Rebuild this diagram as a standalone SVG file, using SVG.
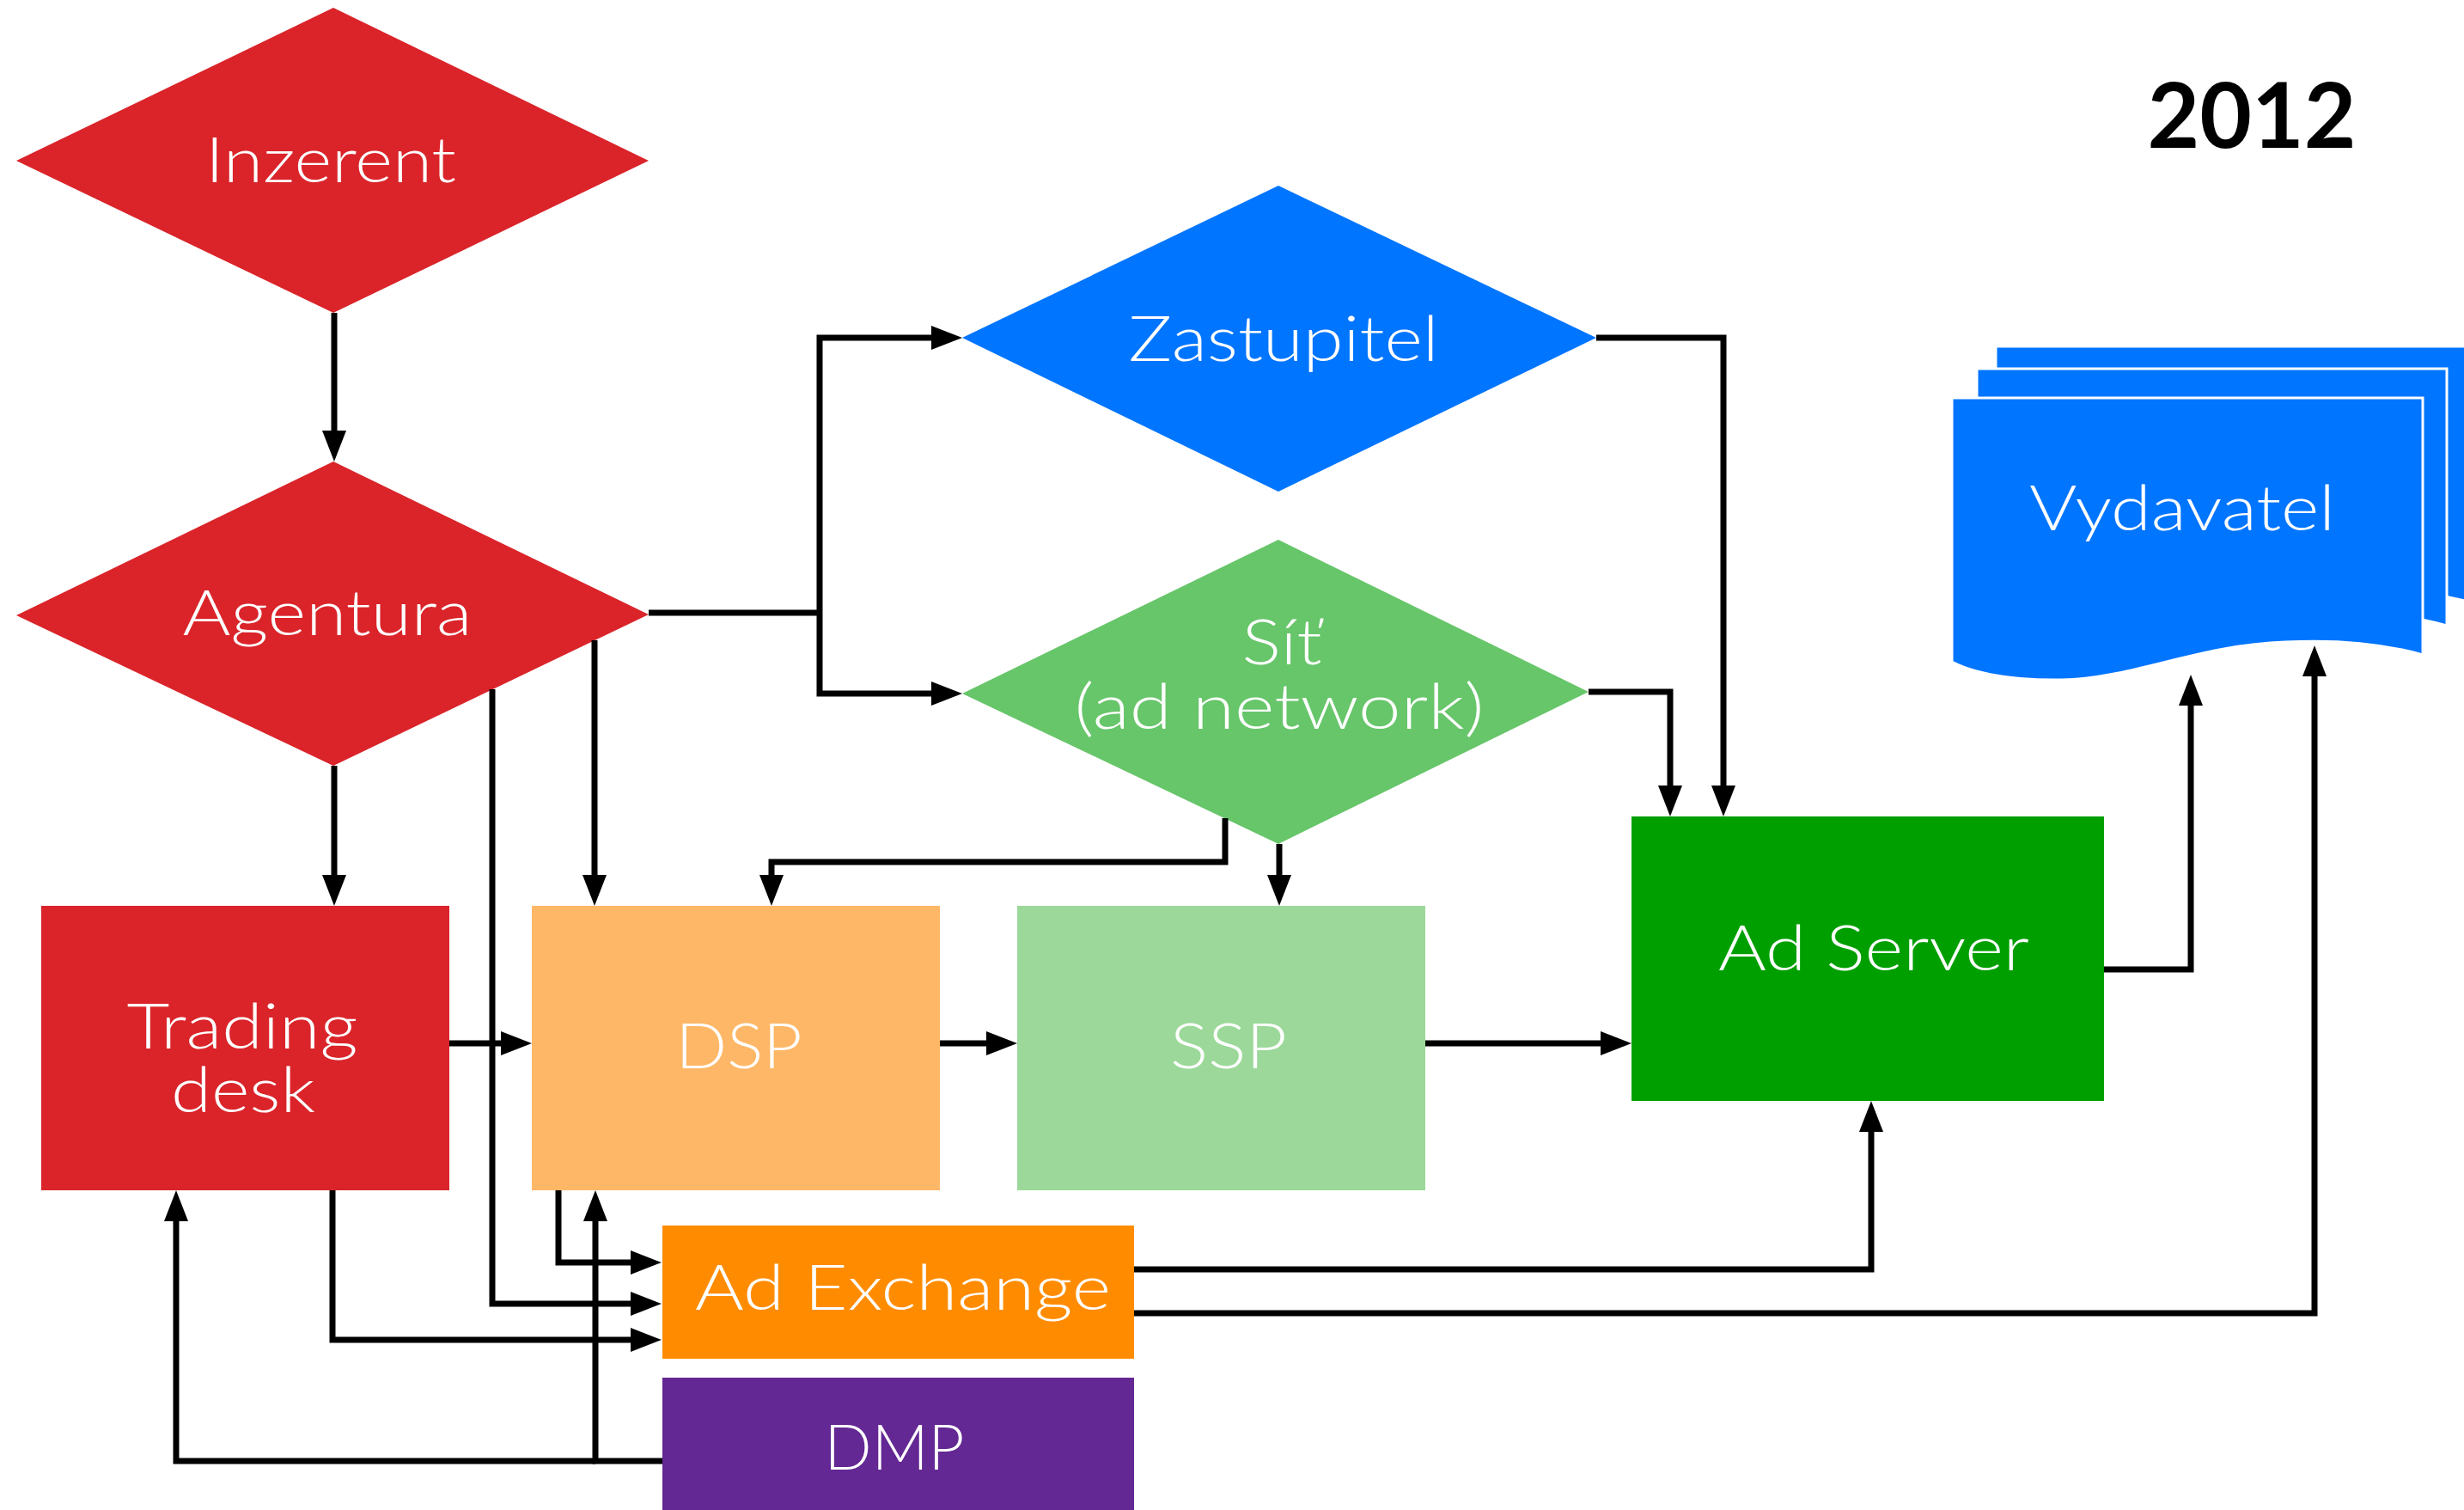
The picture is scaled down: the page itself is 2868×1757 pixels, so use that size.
<svg xmlns="http://www.w3.org/2000/svg" width="2868" height="1757" viewBox="0 0 2868 1757">
<defs>
<style>
.lbl{font-family:Lato,"Open Sans","Liberation Sans",sans-serif;font-weight:300;font-size:73px;fill:#ffffff;text-anchor:middle}
.year{font-family:Lato,"Liberation Sans",sans-serif;font-weight:700;font-size:106px;fill:#000000;text-anchor:middle}
.c{fill:none;stroke:#000;stroke-width:7;stroke-linejoin:miter;stroke-linecap:butt}
.a{marker-end:url(#ah)}
.doc{fill:#0075ff;stroke:#ffffff;stroke-width:3}
</style>
<marker id="ah" markerUnits="userSpaceOnUse" markerWidth="36" markerHeight="28" refX="26" refY="14" orient="auto" viewBox="0 0 36 28">
<path d="M0,0 L36,14 L0,28 Z" fill="#000"/>
</marker>
</defs>
<rect width="2868" height="1757" fill="#ffffff"/>

<g id="inzerent">
<polygon points="388,9 755,187 388,364 19,187" fill="#da242a"/>
<text class="lbl" x="385" y="212" textLength="292" lengthAdjust="spacingAndGlyphs">Inzerent</text>
</g>
<g id="agentura">
<polygon points="388,537 755,715 388,891 19,716" fill="#da242a"/>
<text class="lbl" x="381" y="739" textLength="337" lengthAdjust="spacingAndGlyphs">Agentura</text>
</g>
<g id="zastupitel">
<polygon points="1488,216 1858,393 1488,572 1120,393" fill="#0075ff"/>
<text class="lbl" x="1494" y="420" textLength="361" lengthAdjust="spacingAndGlyphs">Zastupitel</text>
</g>
<g id="sit">
<polygon points="1488,628 1849,805 1488,982 1120,807" fill="#67c56a"/>
<text class="lbl" x="1492" y="773" textLength="93" lengthAdjust="spacingAndGlyphs">Síť</text>
<text class="lbl" x="1489" y="848" textLength="477" lengthAdjust="spacingAndGlyphs">(ad network)</text>
</g>
<g id="trading-desk">
<rect x="48" y="1054" width="475" height="331" fill="#da242a"/>
<text class="lbl" x="282" y="1220" textLength="269" lengthAdjust="spacingAndGlyphs">Trading</text>
<text class="lbl" x="283" y="1294" textLength="168" lengthAdjust="spacingAndGlyphs">desk</text>
</g>
<g id="dsp">
<rect x="619" y="1054" width="475" height="331" fill="#feb766"/>
<text class="lbl" x="860" y="1243" textLength="147" lengthAdjust="spacingAndGlyphs">DSP</text>
</g>
<g id="ssp">
<rect x="1184" y="1054" width="475" height="331" fill="#9bd899"/>
<text class="lbl" x="1430" y="1243" textLength="136" lengthAdjust="spacingAndGlyphs">SSP</text>
</g>
<g id="ad-server">
<rect x="1899" y="950" width="550" height="331" fill="#009f00"/>
<text class="lbl" x="2181" y="1129" textLength="362" lengthAdjust="spacingAndGlyphs">Ad Server</text>
</g>
<g id="ad-exchange">
<rect x="771" y="1426" width="549" height="155" fill="#ff8c00"/>
<text class="lbl" x="1051" y="1524" textLength="484" lengthAdjust="spacingAndGlyphs">Ad Exchange</text>
</g>
<g id="dmp">
<rect x="771" y="1603" width="549" height="160" fill="#632893"/>
<text class="lbl" x="1041" y="1710" textLength="163" lengthAdjust="spacingAndGlyphs">DMP</text>
</g>
<g id="vydavatel">
<path class="doc" d="M2323,403 H2880 V702 C2820,685 2760,685 2711,687 C2611,690 2531,730 2451,731 C2381,732 2341,720 2323,710 Z"/>
<path class="doc" d="M2301,429 H2848 V728 C2788,711 2728,711 2689,713 C2589,716 2509,756 2429,757 C2359,758 2319,746 2301,736 Z"/>
<path class="doc" d="M2272,463 H2820 V762 C2760,745 2700,745 2660,747 C2560,750 2480,790 2400,791 C2330,792 2290,780 2272,770 Z"/>
<text class="lbl" x="2540" y="617" textLength="356" lengthAdjust="spacingAndGlyphs">Vydavatel</text>
</g>
<g id="year">
<text class="year" x="2621" y="172" textLength="243" lengthAdjust="spacingAndGlyphs">2012</text>
</g>

<g id="connectors">
<path class="c a" d="M389,364 V527"/>
<path class="c a" d="M389,891 V1044"/>
<path class="c a" d="M692,745 V1044"/>
<path class="c a" d="M573,802 V1517 H760"/>
<path class="c" d="M755,713 H954"/>
<path class="c a" d="M954,713 V393 H1110"/>
<path class="c a" d="M954,713 V807 H1110"/>
<path class="c a" d="M1858,393 H2006 V940"/>
<path class="c a" d="M1849,805 H1944 V940"/>
<path class="c a" d="M1426,952 V1003 H898 V1044"/>
<path class="c a" d="M1489,982 V1044"/>
<path class="c a" d="M523,1214 H609"/>
<path class="c a" d="M1094,1214 H1174"/>
<path class="c a" d="M1659,1214 H1889"/>
<path class="c a" d="M2449,1128 H2550 V795"/>
<path class="c a" d="M650,1385 V1469 H760"/>
<path class="c a" d="M387,1385 V1559 H760"/>
<path class="c a" d="M771,1700 H693 V1395"/>
<path class="c a" d="M693,1700 H205 V1395"/>
<path class="c a" d="M1320,1477 H2178 V1291"/>
<path class="c a" d="M1320,1528 H2694 V761"/>
</g>
</svg>
